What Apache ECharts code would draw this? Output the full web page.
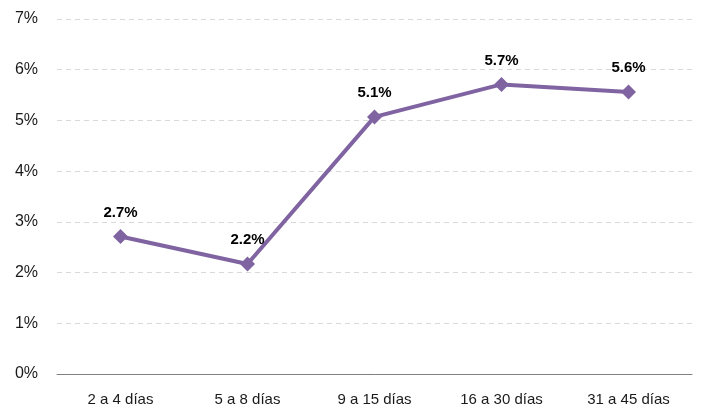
<!DOCTYPE html>
<html>
<head>
<meta charset="UTF-8">
<title>Estancia</title>
<script src="https://cdn.jsdelivr.net/npm/echarts@6/dist/echarts.min.js"></script>
<style>
html, body { margin: 0; padding: 0; width: 100%; height: 100%; overflow: hidden; background: #fff; }
#main { width: 701px; height: 411px; }
</style>
</head>
<body>
<div id="main"></div>
<script>
var categories = ['2 a 4 días', '5 a 8 días', '9 a 15 días', '16 a 30 días', '31 a 45 días'];
var values = [2.71, 2.17, 5.07, 5.71, 5.56];
var labels = ['2.7%', '2.2%', '5.1%', '5.7%', '5.6%'];

var chart = echarts.init(document.getElementById('main'));
var option = {
	animation: false,
	grid: { left: 57, right: 9, top: 19, bottom: 37 },
	xAxis: {
		type: 'category',
		data: categories,
		axisLine: { lineStyle: { color: '#808080', width: 1 } },
		axisTick: { show: false },
		axisLabel: { color: '#1a1a1a', fontSize: 15, fontFamily: 'Liberation Sans', margin: 18 }
	},
	yAxis: {
		type: 'value',
		min: 0,
		max: 7,
		interval: 1,
		axisLine: { show: false },
		axisTick: { show: false },
		axisLabel: {
			color: '#1a1a1a', fontSize: 16, fontFamily: 'Liberation Sans', margin: 19,
			formatter: '{value}%'
		},
		splitLine: { lineStyle: { color: '#d9d9d9', type: [5, 4], width: 1.2 } }
	},
	series: [{
		type: 'line',
		data: values,
		symbol: 'diamond',
		symbolSize: 15,
		lineStyle: { color: '#8064a2', width: 4 },
		itemStyle: { color: '#8064a2' },
		label: {
			show: true,
			position: 'top',
			distance: 9,
			color: '#000',
			fontWeight: 'bold',
			fontSize: 15,
			fontFamily: 'Liberation Sans',
			formatter: function (p) { return labels[p.dataIndex]; }
		}
	}]
};
chart.setOption(option);
window.onresize = function () { chart.resize(); };
</script>
</body>
</html>
